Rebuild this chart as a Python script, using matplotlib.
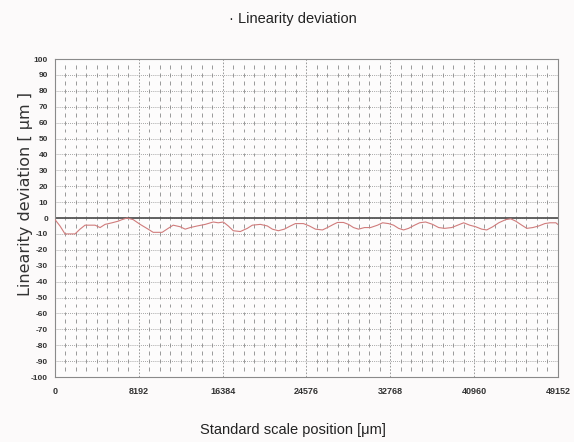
import numpy as np
import matplotlib
matplotlib.use("Agg")
import matplotlib.pyplot as plt

# ---- data ----
pos_um = [0, 490, 979, 1958, 2448, 2938, 3917, 4406, 4896, 5581, 6169, 6561,
          7050, 7638, 8323, 9106, 9596, 10477, 11065, 11554, 12240, 12730,
          13219, 13904, 14688, 15471, 15960, 16450, 16939, 17430, 18115,
          18800, 19290, 20074, 20760, 21250, 21835, 22423, 23010, 23500,
          24284, 24870, 25459, 26145, 26634, 27222, 27614, 28200, 28690,
          29180, 29670, 30257, 30845, 31530, 32020, 32607, 33097, 33587,
          34076, 34566, 35153, 35643, 36230, 36916, 37504, 38091, 38777,
          39364, 39952, 40539, 41126, 41714, 42203, 42791, 43378, 44063,
          44553, 45043, 45630, 46120, 46708, 47295, 47883, 48372, 48960, 49152]
deviation_um = [-1, -5, -10, -10, -7, -4.5, -4.5, -6, -4, -3, -2, -1,
                0, -1, -4, -7, -9, -9, -6.5, -4.5, -5.5, -7,
                -6, -5, -4, -2.5, -3, -2.5, -5, -8, -8.5,
                -6.5, -4.5, -4, -5, -7, -8, -7, -5, -3.5,
                -3.5, -5, -7, -7.5, -6, -4, -2.8, -2.8, -4,
                -6, -7, -6, -6, -4.5, -3, -3.5, -4.5, -6.5,
                -7.5, -6.5, -4.5, -3, -2.5, -4, -6, -6.5, -6,
                -4.5, -3, -4.5, -5.5, -7, -7.5, -5.5, -3, -1,
                -0.5, -2, -4.5, -6.5, -6, -5, -3.5, -3, -3, -4]
x_ticks = [0, 8192, 16384, 24576, 32768, 40960, 49152]
y_ticks = list(range(-100, 101, 10))

title = "· Linearity deviation"
xlabel = "Standard scale position [μm]"
ylabel = "Linearity deviation [ μm ]"

narrow = ["Liberation Sans", "DejaVu Sans"]

fig = plt.figure(figsize=(5.74, 4.42), dpi=100)
fig.patch.set_facecolor("#fcfafa")
ax = fig.add_axes([0.0958, 0.147, 0.876, 0.7195])
ax.set_facecolor("#fdfcfc")

ax.set_xlim(0, 49152)
ax.set_ylim(-100, 100)

# grid: horizontal dotted every 10
for yv in y_ticks[1:-1]:
    ax.axhline(yv, color="#8a8a8a", lw=0.6, ls=(0, (1, 1.5)), zorder=1)
# major vertical dashed lines
for xv in x_ticks[1:-1]:
    ax.axvline(xv, color="#8a8a8a", lw=0.6, ls=(0, (2, 2)), zorder=1)
# minor vertical short dashes every 1024 at every 5 units
minor_x = [m for m in np.arange(1024, 49152, 1024) if m % 8192 != 0]
minor_y = np.arange(-95, 100, 5)
for mx in minor_x:
    ax.vlines([mx] * len(minor_y), minor_y - 1.2, minor_y + 1.2,
              color="#8a8a8a", lw=0.6, zorder=1)

ax.axhline(0, color="#555555", lw=1.3, zorder=2)
ax.plot(pos_um, deviation_um, color="#d07c7c", lw=0.8, zorder=3)

ax.set_xticks(x_ticks)
ax.set_xticklabels([str(v) for v in x_ticks], family=narrow, fontsize=6.5,
                   fontweight="bold", color="#333333")
ax.set_yticks(y_ticks)
ax.set_yticklabels([str(v) for v in y_ticks], family=narrow, fontsize=6,
                   fontweight="bold", color="#333333")
ax.tick_params(length=0, pad=7)
ax.tick_params(axis="y", pad=5)

for s in ax.spines.values():
    s.set_color("#8a8a8a")
    s.set_linewidth(0.8)

fig.text(0.51, 0.957, title, ha="center", va="center", family=narrow,
         fontsize=10.5, color="#222222")
fig.text(0.51, 0.027, xlabel, ha="center", va="center", family=narrow,
         fontsize=10.5, color="#222222")
fig.text(0.044, 0.561, ylabel, ha="center", va="center", rotation=90,
         family=["DejaVu Sans"], fontsize=11.5, color="#333333")

fig.savefig("out.png", dpi=100, facecolor=fig.get_facecolor())
